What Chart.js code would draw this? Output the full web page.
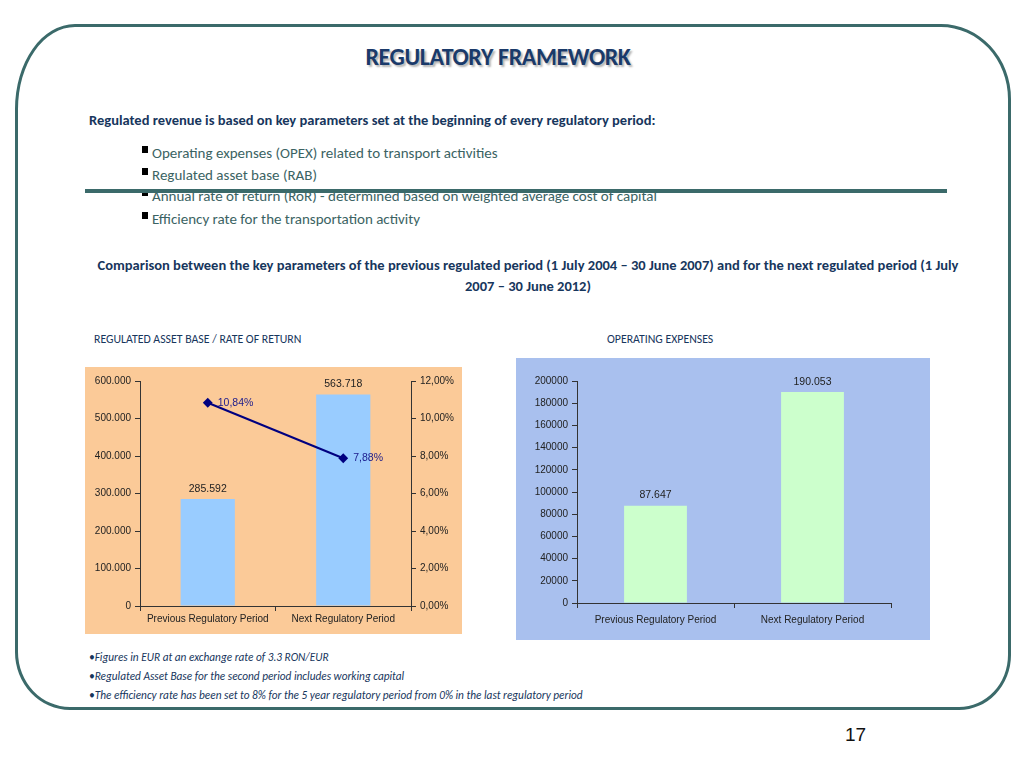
<!DOCTYPE html>
<html>
<head>
<meta charset="utf-8">
<script src="https://cdn.jsdelivr.net/npm/chart.js@4"></script>
<style>
  html, body { margin: 0; padding: 0; background: #fff; }
  body { width: 1024px; height: 768px; position: relative; overflow: hidden;
         font-family: "Carlito", "Liberation Sans Narrow", "Open Sans", sans-serif; }
  .abs { position: absolute; white-space: nowrap; }
  #frame { position: absolute; left: 15px; top: 24px; width: 990px; height: 680px;
           border: 3px solid #3b6a6a;
           border-radius: 60px 70px 52px 55px / 85px 75px 55px 58px; }
  #rule { position: absolute; left: 85px; top: 189px; width: 862px; height: 4px; background: #3b6a6a; }
  .title { left: 0; width: 996px; text-align: center; top: 42px; font-size: 24px; font-weight: bold;
           color: #1a3a6a; text-shadow: 2px 2px 2px rgba(0,0,0,0.3); letter-spacing: -0.4px; }
  .lead { left: 89px; top: 111px; font-size: 14.5px; font-weight: bold; color: #17365d; }
  .bul { left: 152px; font-size: 15px; color: #3b6363; }
  .sq { position: absolute; left: 142px; width: 6px; height: 7px; background: #000; }
  .cmp { left: 0; width: 1056px; text-align: center; font-size: 14.5px; font-weight: bold; color: #17365d; }
  .ct { font-size: 11.8px; color: #17365d; top: 332px; }
  .note { left: 89px; font-size: 11.3px; font-style: italic; color: #17365d; }
  #c1wrap { position: absolute; left: 85px; top: 367px; width: 377px; height: 267px; background: #fbca98; }
  #c2wrap { position: absolute; left: 516px; top: 358px; width: 414px; height: 282px; background: #a9c0ee; }
</style>
</head>
<body>
<div id="frame"></div>
<div class="abs title">REGULATORY FRAMEWORK</div>
<div class="abs lead">Regulated revenue is based on key parameters set at the beginning of every regulatory period:</div>

<div class="sq" style="top:146px"></div><div class="abs bul" style="top:144px">Operating expenses (OPEX) related to transport activities</div>
<div class="sq" style="top:168px"></div><div class="abs bul" style="top:166px">Regulated asset base (RAB)</div>
<div class="sq" style="top:189px"></div><div class="abs bul" style="top:187px">Annual rate of return (RoR) - determined based on weighted average cost of capital</div>
<div class="sq" style="top:212px"></div><div class="abs bul" style="top:210px">Efficiency rate for the transportation activity</div>
<div id="rule"></div>

<div class="abs cmp" style="top:256px">Comparison between the key parameters of the previous regulated period (1 July 2004 – 30 June 2007) and for the next regulated period (1 July</div>
<div class="abs cmp" style="top:277px">2007 – 30 June 2012)</div>

<div class="abs ct" style="left:94px">REGULATED ASSET BASE / RATE OF RETURN</div>
<div class="abs ct" style="left:607px">OPERATING EXPENSES</div>

<div id="c1wrap"><canvas id="c1" width="377" height="267"></canvas></div>
<div id="c2wrap"><canvas id="c2" width="414" height="282"></canvas></div>

<div class="abs note" style="top:650px">•Figures in EUR at an exchange rate of 3.3 RON/EUR</div>
<div class="abs note" style="top:669px">•Regulated Asset Base for the second period includes working capital</div>
<div class="abs note" style="top:688px">•The efficiency rate has been set to 8% for the 5 year regulatory period from 0% in the last regulatory period</div>

<div class="abs" style="left:845px; top:724px; font-size:19px; font-family:'Liberation Sans', sans-serif; color:#111">17</div>

<script>
const periods = ['Previous Regulatory Period', 'Next Regulatory Period'];
const assetBase = [285592, 563718];
const rateOfReturn = [10.84, 7.88];
const opex = [87647, 190053];

const dotThousands = v => String(Math.round(v)).replace(/\B(?=(\d{3})+(?!\d))/g, '.');
const pctComma = v => v.toFixed(2).replace('.', ',') + '%';

// draws the value next to each bar / point, like the Excel data labels
const valueLabels = {
    id: 'valueLabels',
    afterDatasetsDraw(chart) {
        const ctx = chart.ctx;
        ctx.save();
        ctx.font = '10.5px "Liberation Sans", Arial, sans-serif';
        chart.data.datasets.forEach((ds, i) => {
            const meta = chart.getDatasetMeta(i);
            meta.data.forEach((el, j) => {
                const text = ds.labelFormat(ds.data[j]);
                ctx.fillStyle = ds.labelColor || '#222';
                if (ds.labelSide === 'right') {
                    ctx.textAlign = 'left';
                    ctx.textBaseline = 'middle';
                    ctx.fillText(text, el.x + 10, el.y);
                } else {
                    ctx.textAlign = 'center';
                    ctx.textBaseline = 'bottom';
                    ctx.fillText(text, el.x, el.y - 5);
                }
            });
        });
        ctx.restore();
    }
};

Chart.defaults.font.family = '"Liberation Sans", Arial, sans-serif';
Chart.defaults.font.size = 10;
Chart.defaults.color = '#222';

function axisStyle(color) {
    return {
        border: { color: color, width: 1 },
        grid: { drawOnChartArea: false, color: color, tickLength: 5 }
    };
}

new Chart(document.getElementById('c1'), {
    type: 'bar',
    data: {
        labels: periods,
        datasets: [
            {
                type: 'line',
                label: 'RoR',
                data: rateOfReturn,
                yAxisID: 'y1',
                borderColor: '#000080',
                backgroundColor: '#000080',
                borderWidth: 2,
                pointStyle: 'rectRot',
                pointRadius: 3.5,
                labelSide: 'right',
                labelColor: '#1a1a8c',
                labelFormat: pctComma,
                order: 0
            },
            {
                label: 'RAB',
                data: assetBase,
                yAxisID: 'y',
                backgroundColor: '#99ccff',
                barPercentage: 0.4,
                categoryPercentage: 1,
                labelFormat: dotThousands,
                order: 1
            }
        ]
    },
    options: {
        responsive: false,
        animation: false,
        layout: { padding: { top: 14, bottom: 7, left: 0, right: 0 } },
        plugins: { legend: { display: false }, tooltip: { enabled: false } },
        scales: {
            x: {
                ...axisStyle('#333'),
                ticks: { padding: 2, maxRotation: 0, autoSkip: false }
            },
            y: {
                ...axisStyle('#333'),
                min: 0, max: 600000,
                ticks: { stepSize: 100000, callback: v => dotThousands(v), padding: 4 },
                afterFit: s => { s.width = 55; }
            },
            y1: {
                ...axisStyle('#333'),
                position: 'right',
                min: 0, max: 12,
                ticks: { stepSize: 2, callback: v => pctComma(v), padding: 4 },
                afterFit: s => { s.width = 51; }
            }
        }
    },
    plugins: [valueLabels]
});

new Chart(document.getElementById('c2'), {
    type: 'bar',
    data: {
        labels: periods,
        datasets: [{
            label: 'OPEX',
            data: opex,
            backgroundColor: '#ccffcc',
            barPercentage: 0.4,
            categoryPercentage: 1,
            labelFormat: dotThousands
        }]
    },
    options: {
        responsive: false,
        animation: false,
        layout: { padding: { top: 23, bottom: 8, left: 0, right: 39 } },
        plugins: { legend: { display: false }, tooltip: { enabled: false } },
        scales: {
            x: {
                ...axisStyle('#333'),
                ticks: { padding: 6, maxRotation: 0, autoSkip: false }
            },
            y: {
                ...axisStyle('#333'),
                min: 0, max: 200000,
                ticks: { stepSize: 20000, callback: v => String(v), padding: 4 },
                afterFit: s => { s.width = 61; }
            }
        }
    },
    plugins: [valueLabels]
});
</script>
</body>
</html>
